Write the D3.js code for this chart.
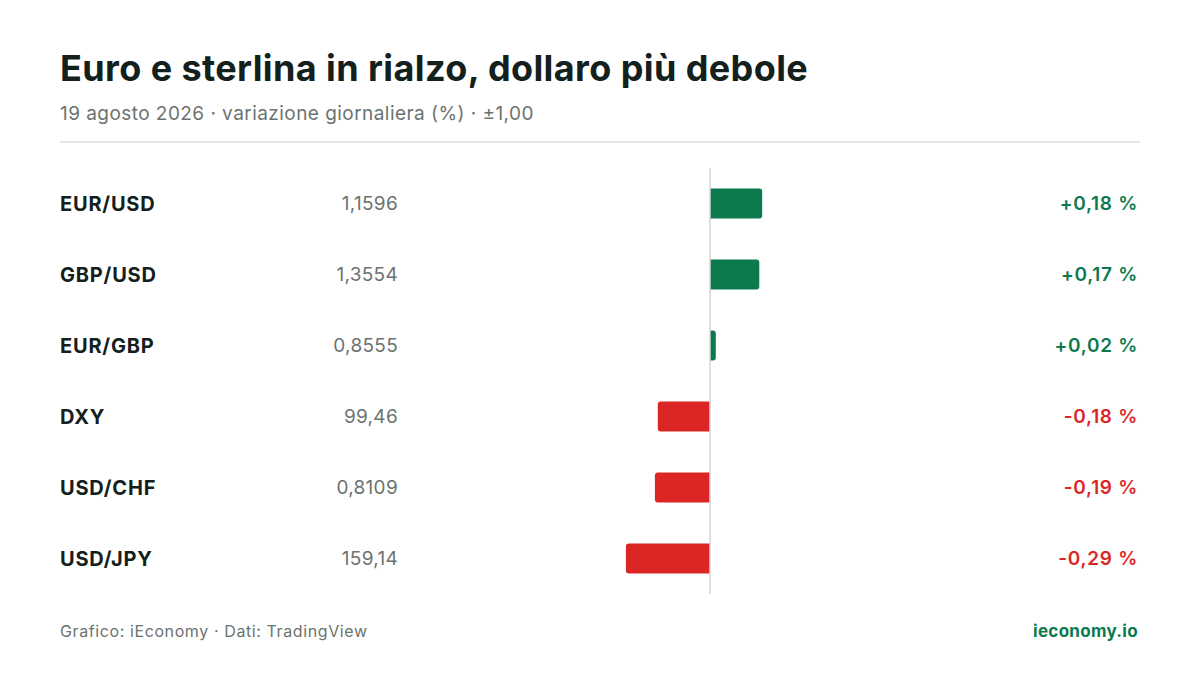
<!DOCTYPE html>
<html><head><meta charset="utf-8">
<script src="https://cdn.jsdelivr.net/npm/d3@7"></script>
<style>body{margin:0;background:#fff}svg{font-family:Inter,"Noto Sans",sans-serif}</style>
</head><body><svg width="1200" height="675"></svg>
<script>
var pairs = ["EUR/USD", "GBP/USD", "EUR/GBP", "DXY", "USD/CHF", "USD/JPY"];
var prices = ["1,1596", "1,3554", "0,8555", "99,46", "0,8109", "159,14"];
var changes = [0.18, 0.17, 0.02, -0.18, -0.19, -0.29];

var svg = d3.select("svg");
var green = "#0d7a4e", red = "#dc2626";

svg.append("text").attr("x", 60).attr("y", 81).text("Euro e sterlina in rialzo, dollaro più debole")
    .style("font-size", "36px").style("font-weight", 700).style("fill", "#13201c").style("letter-spacing", "0.4px");
svg.append("text").attr("x", 60).attr("y", 120).text("19 agosto 2026 · variazione giornaliera (%) · ±1,00")
    .style("font-size", "19px").style("fill", "#6b7370").style("letter-spacing", "0.45px");
svg.append("line").attr("x1", 60).attr("x2", 1140).attr("y1", 142).attr("y2", 142)
    .style("stroke", "#dddddd").style("stroke-width", 1.5);

var x = d3.scaleLinear().domain([-1, 1]).range([420, 1000]);
var y = d3.scaleBand().domain(pairs).range([168, 594]);

var row = svg.selectAll(".row").data(pairs).enter().append("g")
    .attr("transform", function (d) { return "translate(0," + (y(d) + y.bandwidth() / 2) + ")"; });

row.append("text").attr("x", 60).attr("dy", "0.35em").text(function (d) { return d; })
    .style("font-size", "20px").style("font-weight", 700).style("fill", "#13201c").style("letter-spacing", "0.8px");
row.append("text").attr("x", 398).attr("dy", "0.35em").attr("text-anchor", "end")
    .text(function (d, i) { return prices[i]; })
    .style("font-size", "19px").style("fill", "#6b7370").style("letter-spacing", "0.3px");

// bars with rounded outer corners
row.append("path").attr("d", function (d, i) {
    var v = changes[i], x0 = x(0), x1 = x(v), h = 30, r = Math.min(3, Math.abs(x1 - x0));
    var s = v >= 0 ? 1 : -1;
    return "M" + x0 + "," + (-h / 2) + "L" + (x1 - s * r) + "," + (-h / 2) +
        "Q" + x1 + "," + (-h / 2) + " " + x1 + "," + (-h / 2 + r) +
        "L" + x1 + "," + (h / 2 - r) +
        "Q" + x1 + "," + (h / 2) + " " + (x1 - s * r) + "," + (h / 2) +
        "L" + x0 + "," + (h / 2) + "Z";
}).style("fill", function (d, i) { return changes[i] >= 0 ? green : red; });

row.append("text").attr("x", 1138).attr("dy", "0.35em").attr("text-anchor", "end")
    .text(function (d, i) {
        var v = changes[i];
        return (v >= 0 ? "+" : "-") + Math.abs(v).toFixed(2).replace(".", ",") + " %";
    })
    .style("font-size", "19px").style("font-weight", 600).style("letter-spacing", "0.7px")
    .style("fill", function (d, i) { return changes[i] >= 0 ? green : red; });

svg.append("line").attr("x1", x(0)).attr("x2", x(0)).attr("y1", 168).attr("y2", 594)
    .style("stroke", "#d4d4d4").style("stroke-width", 1.5);

svg.append("text").attr("x", 60).attr("y", 637).text("Grafico: iEconomy · Dati: TradingView")
    .style("font-size", "16px").style("fill", "#6b7370").style("letter-spacing", "0.6px");
svg.append("text").attr("x", 1138).attr("y", 637).attr("text-anchor", "end").text("ieconomy.io")
    .style("font-size", "17px").style("font-weight", 700).style("fill", green).style("letter-spacing", "0.3px");
</script></body></html>
